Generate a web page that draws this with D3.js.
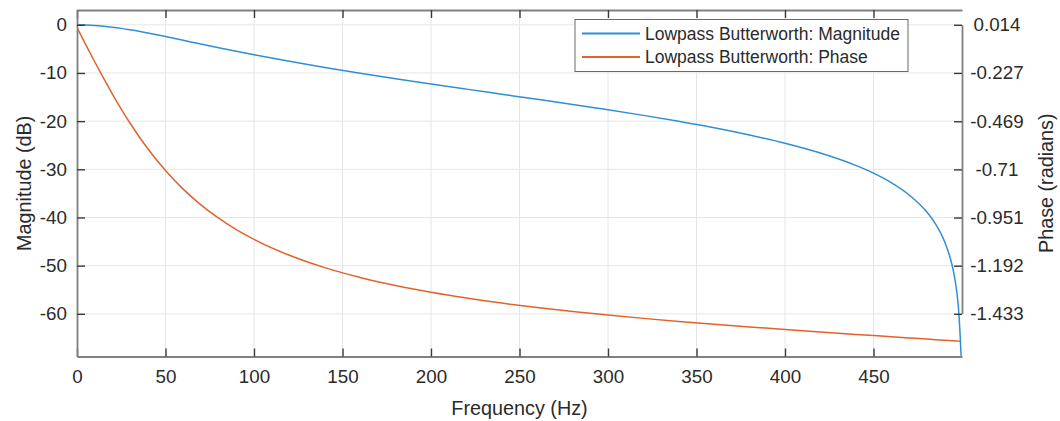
<!DOCTYPE html>
<html>
<head>
<meta charset="utf-8">
<script src="https://cdn.jsdelivr.net/npm/d3@7"></script>
<style>
  html, body { margin: 0; padding: 0; background: #ffffff; }
  svg { display: block; }
  text { font-family: "Liberation Sans", Arial, Helvetica, sans-serif; fill: #2b2b2b; }
</style>
</head>
<body>
<svg id="chart" width="1060" height="421"></svg>
<script>
// Frequency response of a lowpass Butterworth filter (fs = 1 kHz)
const freqHz = [0, 5, 10, 15, 20, 25, 30, 40, 50, 60, 70, 80, 90, 100, 120, 140, 160, 180,
  200, 220, 240, 260, 280, 300, 320, 340, 360, 380, 400, 420, 440, 450, 460, 470, 480,
  485, 490, 493, 495, 497, 498, 499, 499.5];

const magnitudeDb = [0, -0.032, -0.128, -0.282, -0.490, -0.745, -1.037, -1.708, -2.448,
  -3.219, -3.995, -4.759, -5.503, -6.219, -7.583, -8.856, -10.054, -11.192, -12.288,
  -13.357, -14.413, -15.470, -16.540, -17.649, -18.806, -20.038, -21.359, -22.865,
  -24.578, -26.618, -29.194, -30.808, -32.771, -35.289, -38.824, -41.328, -44.853,
  -47.953, -50.876, -55.313, -58.835, -64.856, -68.86];

const phaseRad = [0, -0.0861, -0.1710, -0.2535, -0.3328, -0.4082, -0.4790, -0.6068,
  -0.7154, -0.8089, -0.8875, -0.9543, -1.0114, -1.0602, -1.1399, -1.2018, -1.2511,
  -1.2915, -1.3254, -1.3543, -1.3794, -1.4015, -1.4213, -1.4393, -1.4558, -1.4711,
  -1.4852, -1.4988, -1.5117, -1.5241, -1.5361, -1.5420, -1.5478, -1.5536, -1.5594,
  -1.5622, -1.5651, -1.5668, -1.5679, -1.5691, -1.5697, -1.5702, -1.5704];

const xTicks = [0, 50, 100, 150, 200, 250, 300, 350, 400, 450];
const magTicks = [-60, -50, -40, -30, -20, -10, 0];
const phaseTicks = [-1.433, -1.192, -0.951, -0.71, -0.469, -0.227, 0.014];

const seriesNames = ["Lowpass Butterworth: Magnitude", "Lowpass Butterworth: Phase"];
const seriesColors = ["#2f8fd5", "#e2622d"];

const box = { left: 77, right: 962, top: 10, bottom: 356.5 };

const svg = d3.select("#chart");

const x = d3.scaleLinear().domain([0, 500]).range([box.left, box.right]);
const yMag = d3.scaleLinear().domain([-68.86, 3.07]).range([box.bottom, box.top]);
// Phase axis shares the magnitude gridlines: its outer ticks sit on 0 dB and -60 dB
const yPhase = d3.scaleLinear()
  .domain([phaseTicks[0], phaseTicks[phaseTicks.length - 1]])
  .range([yMag(-60), yMag(0)]);

// grid
const grid = svg.append("g");
grid.selectAll("line.gx").data(xTicks.filter(d => d > 0)).join("line")
  .attr("x1", d => x(d)).attr("x2", d => x(d))
  .attr("y1", box.top).attr("y2", box.bottom)
  .attr("stroke", "#e6e6e6").attr("stroke-width", 1);
grid.selectAll("line.gy").data(magTicks).join("line")
  .attr("x1", box.left).attr("x2", box.right)
  .attr("y1", d => yMag(d)).attr("y2", d => yMag(d))
  .attr("stroke", "#e6e6e6").attr("stroke-width", 1);

// curves
svg.append("clipPath").attr("id", "plotClip").append("rect")
  .attr("x", box.left).attr("y", box.top)
  .attr("width", box.right - box.left).attr("height", box.bottom - box.top + 1);

const magLine = d3.line().x((d, i) => x(freqHz[i])).y(d => yMag(d)).curve(d3.curveMonotoneX);
const phaseLine = d3.line().x((d, i) => x(freqHz[i])).y(d => yPhase(d)).curve(d3.curveMonotoneX);

const curves = svg.append("g").attr("clip-path", "url(#plotClip)");
curves.append("path").datum(phaseRad).attr("d", phaseLine)
  .attr("fill", "none").attr("stroke", seriesColors[1]).attr("stroke-width", 1.5);
curves.append("path").datum(magnitudeDb).attr("d", magLine)
  .attr("fill", "none").attr("stroke", seriesColors[0]).attr("stroke-width", 1.5);

// axes: boxed, inward ticks, plain hyphen minus signs
const tickLen = 8;
const axisFont = 18.8;
const titleFont = 19.8;
const plain = d => String(d);

const bottomAxis = d3.axisBottom(x).tickValues(xTicks).tickSizeInner(-tickLen).tickSizeOuter(0)
  .tickPadding(13).tickFormat(plain);
const gB = svg.append("g").attr("transform", `translate(0,${box.bottom})`).call(bottomAxis);

const topAxis = d3.axisTop(x).tickValues(xTicks).tickSizeInner(-tickLen).tickSizeOuter(0).tickFormat("");
const gT = svg.append("g").attr("transform", `translate(0,${box.top})`).call(topAxis);

const leftAxis = d3.axisLeft(yMag).tickValues(magTicks).tickSizeInner(-tickLen).tickSizeOuter(0)
  .tickPadding(10).tickFormat(plain);
const gL = svg.append("g").attr("transform", `translate(${box.left},0)`).call(leftAxis);

const rightAxis = d3.axisRight(yPhase).tickValues(phaseTicks).tickSizeInner(-tickLen).tickSizeOuter(0)
  .tickFormat(plain);
const gR = svg.append("g").attr("transform", `translate(${box.right},0)`).call(rightAxis);

[gB, gT, gL, gR].forEach(g => {
  g.select(".domain").attr("stroke", "#808080").attr("stroke-width", 1.8);
  g.selectAll(".tick line").attr("stroke", "#3a3a3a").attr("stroke-width", 1.4);
  g.selectAll(".tick text").attr("font-size", axisFont).attr("fill", "#2b2b2b")
    .style("font-family", '"Liberation Sans", Arial, sans-serif');
});
// right-hand labels are centred in their column
gR.selectAll(".tick text").attr("text-anchor", "middle").attr("x", 997 - box.right);

// axis titles
svg.append("text").attr("x", x(250)).attr("y", 415)
  .attr("text-anchor", "middle").attr("font-size", titleFont).text("Frequency (Hz)");
svg.append("text").attr("transform", `translate(31,${(box.top + box.bottom) / 2}) rotate(-90)`)
  .attr("text-anchor", "middle").attr("font-size", titleFont).text("Magnitude (dB)");
svg.append("text").attr("transform", `translate(1053,${(box.top + box.bottom) / 2}) rotate(-90)`)
  .attr("text-anchor", "middle").attr("font-size", titleFont).text("Phase (radians)");

// legend
const legend = svg.append("g");
legend.append("rect").attr("x", 575).attr("y", 19.5).attr("width", 333).attr("height", 52)
  .attr("fill", "#ffffff").attr("stroke", "#6a6a6a").attr("stroke-width", 1);
seriesNames.forEach((name, i) => {
  const yy = 33.5 + i * 23.5;
  legend.append("line").attr("x1", 582).attr("x2", 640).attr("y1", yy).attr("y2", yy)
    .attr("stroke", seriesColors[i]).attr("stroke-width", 1.8);
  legend.append("text").attr("x", 645).attr("y", yy).attr("dy", "0.35em")
    .attr("font-size", 17.5).text(name);
});
</script>
</body>
</html>
